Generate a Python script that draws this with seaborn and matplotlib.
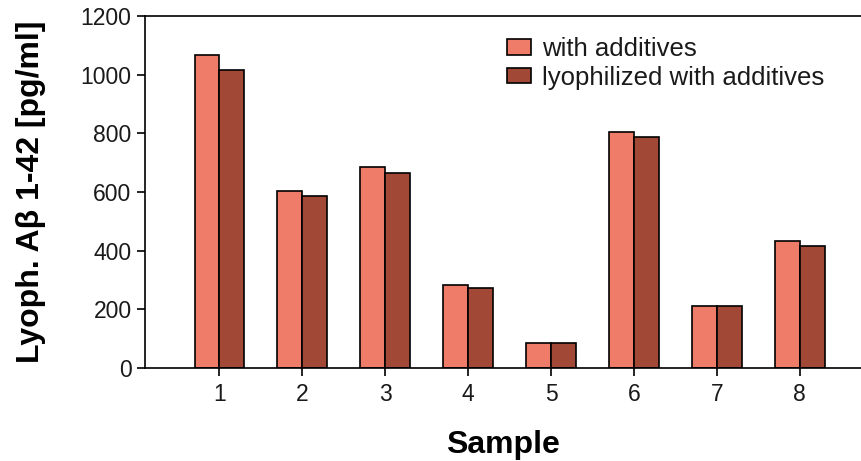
import pandas as pd
import seaborn as sns
import matplotlib.pyplot as plt

samples = ["1", "2", "3", "4", "5", "6", "7", "8"]
with_additives = [1067, 604, 685, 283, 86, 806, 212, 434]
lyophilized = [1016, 587, 666, 274, 84, 786, 211, 416]
series_names = ["with additives", "lyophilized with additives"]

df = pd.DataFrame({
    "Sample": samples * 2,
    "value": with_additives + lyophilized,
    "series": [series_names[0]] * len(samples) + [series_names[1]] * len(samples),
})

sns.set_style("ticks")
plt.rcParams["font.family"] = ["Liberation Sans", "DejaVu Sans"]
plt.rcParams["text.color"] = "#1a1a1a"
plt.rcParams["axes.labelcolor"] = "black"
plt.rcParams["xtick.color"] = "black"
plt.rcParams["ytick.color"] = "black"

fig = plt.figure(figsize=(8.62, 4.61), dpi=100)
ax = fig.add_axes([0.168, 0.202, 0.832, 0.763])

sns.barplot(data=df, x="Sample", y="value", hue="series", width=0.6,
            palette=["#EF7B69", "#A24837"], saturation=1,
            edgecolor="black", linewidth=1.2, ax=ax)

ax.set_xlim(-0.9, 7.75)
ax.set_ylim(0, 1200)
ax.set_yticks(range(0, 1201, 200))
ax.tick_params(axis="both", labelsize=16.5, length=6, width=1.2,
               labelcolor="#1a1a1a")
ax.tick_params(axis="x", pad=5)
for s in ["left", "top", "bottom"]:
    ax.spines[s].set_linewidth(1.2)
    ax.spines[s].set_color("black")
ax.spines["right"].set_visible(False)

ax.set_xlabel("Sample", fontsize=23, fontweight="bold", labelpad=17)
ax.set_ylabel("Lyoph. Aβ 1-42 [pg/ml]", fontsize=23, fontweight="bold", labelpad=25)

ax.legend(loc="upper left", bbox_to_anchor=(0.49, 0.97), frameon=False,
          fontsize=18.5, handlelength=0.95, handleheight=0.55, handletextpad=0.45,
          labelspacing=0.18, borderaxespad=0)

fig.savefig("out.png", dpi=100)
